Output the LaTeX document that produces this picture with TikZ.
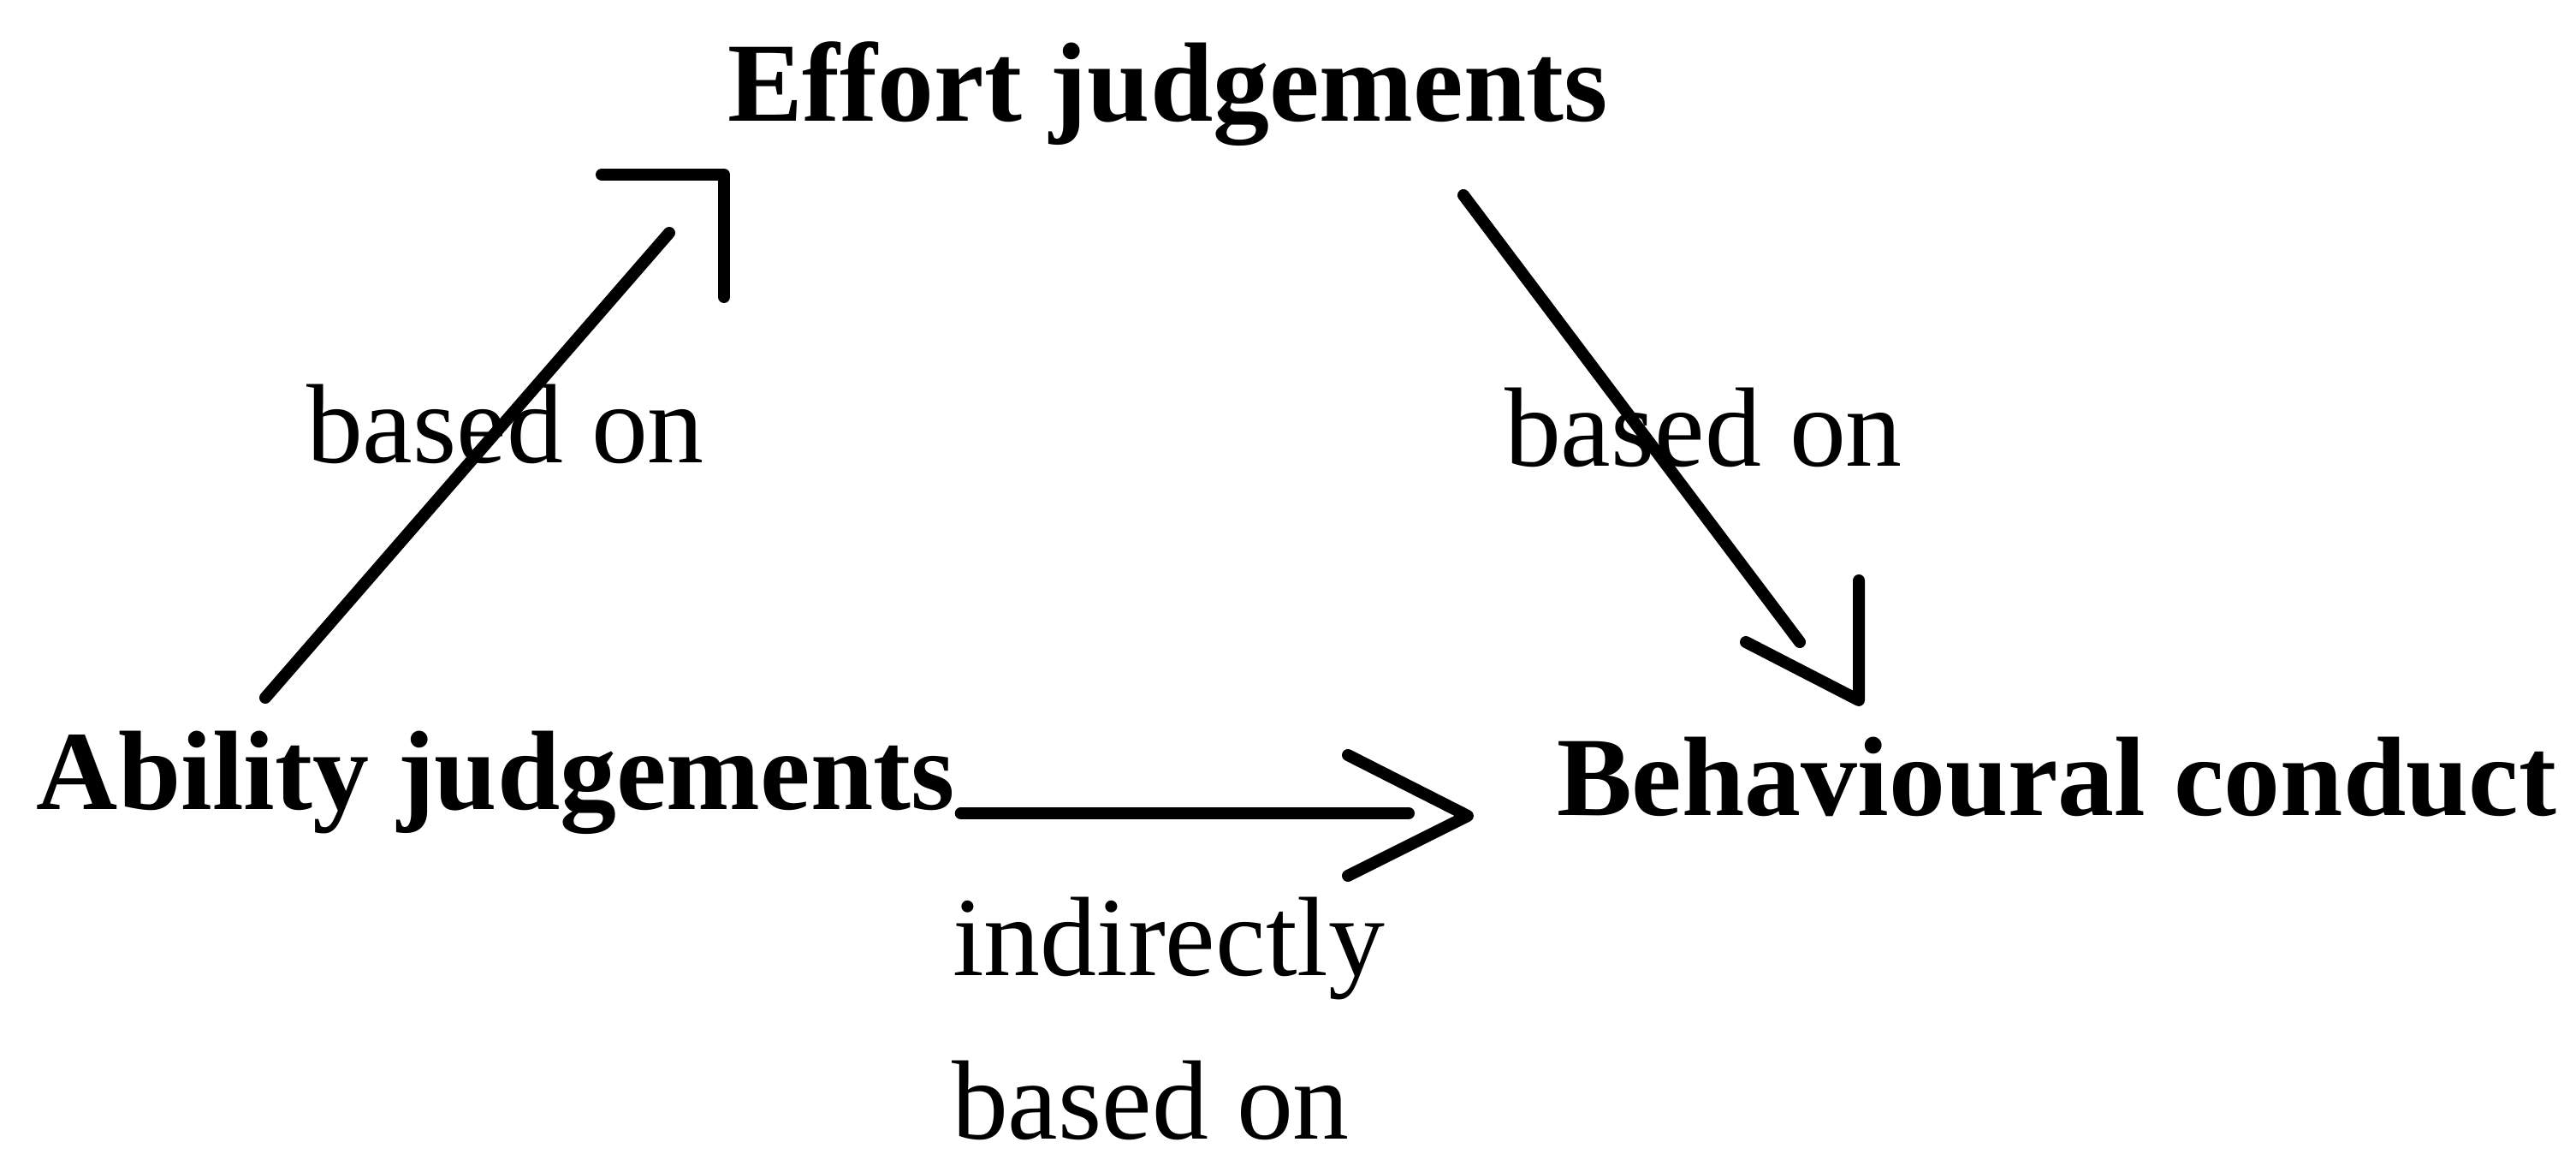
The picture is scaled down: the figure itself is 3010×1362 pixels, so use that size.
\documentclass[tikz,border=0pt]{standalone}
\usepackage{fontspec}
\setmainfont{Liberation Serif}

\begin{document}
\begin{tikzpicture}[x=0.1mm, y=-0.1mm, line width=1.4mm, line cap=round, line join=round,
  judg/.style={inner sep=0pt, anchor=base west, font=\bfseries\fontsize{37.5}{45}\selectfont},
  lbl/.style={inner sep=0pt, anchor=base west, font=\fontsize{37.5}{45}\selectfont}]

\useasboundingbox (0,0) rectangle (3010,1362);

% die drei Urteile bzw. das Verhalten
\node[judg] (effort) at (843,142) {Effort judgements};
\node[judg] (ability) at (36,946) {Ability judgements};
\node[judg] (conduct) at (1812,952) {Behavioural conduct};

% Beschriftungen der Pfeile
\node[lbl] (basedAE) at (351,541) {based on};
\node[lbl] (basedEC) at (1751,545) {based on};
\node[lbl] (indirect) at (1106,1140) {indirectly};
\node[lbl] (basedAC) at (1105,1330) {based on};

% Spitzen der Pfeile, etwas abgesetzt vom Schaft
\coordinate (tipAE) at ([shift={(3,62)}]effort.base west);
\coordinate (tipEC) at ([shift={(360,-134)}]conduct.base west);
\coordinate (tipAC) at ([shift={(-97,1)}]conduct.base west);

% Schaefte
\draw ([shift={(274,-131)}]ability.base west) -- ([shift={(-61,130)}]effort.base west);
\draw ([shift={(867,86)}]effort.base west) -- ([shift={(291,-202)}]conduct.base west);
\draw ([shift={(0,4)}]ability.base east) -- ([shift={(-166,-2)}]conduct.base west);

% offene Spitzen
\draw ([shift={(-143,0)}]tipAE) -- (tipAE) -- ++(0,143);
\draw ([shift={(0,-140)}]tipEC) -- (tipEC) -- ++(-132,-68);
\draw ([shift={(-140,-71)}]tipAC) -- (tipAC) -- ++(-140,70);

\end{tikzpicture}
\end{document}
